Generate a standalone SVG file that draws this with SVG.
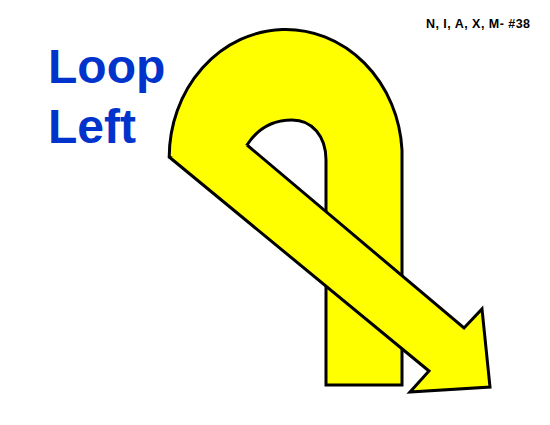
<svg xmlns="http://www.w3.org/2000/svg" width="550" height="425" viewBox="0 0 550 425">
  <style>
    .fill { fill: #ffff00; }
    .loop { fill: #ffff00; stroke: #000000; stroke-width: 3; stroke-linejoin: miter; }
    .edge { fill: none; stroke: #000000; stroke-width: 3; stroke-linejoin: miter; }
    .title { font-family: "Liberation Sans", Arial, sans-serif; font-weight: bold; font-size: 48px; fill: #0033cc; }
    .tag { font-family: "Liberation Sans", Arial, sans-serif; font-weight: bold; font-size: 12.5px; fill: #000000; }
  </style>
  <rect width="550" height="425" fill="#ffffff"/>
  <g id="loop">
    <path class="loop" d="M169.2,157 A116.5,128 0 0 1 402,150 L402,385 L326,385 L326,160 C326,136 312,120 292,120 C270,120 256,131 247,145 L260,185 L200,168 Z"/>
  </g>
  <g id="arrow">
    <path class="fill" d="M169.2,157 L247,145 L464,328 L482,309 L490,387 L410,392 L429,371 Z"/>
    <path class="edge" d="M247,145 L464,328 L482,309 L490,387 L410,392 L429,371 L169.2,157"/>
  </g>
  <g id="title">
    <text class="title" x="48" y="83">Loop</text>
    <text class="title" x="48" y="142.5">Left</text>
  </g>
  <g id="tag">
    <text class="tag" x="426" y="28.3" textLength="104" lengthAdjust="spacing">N, I, A, X, M- #38</text>
  </g>
</svg>
